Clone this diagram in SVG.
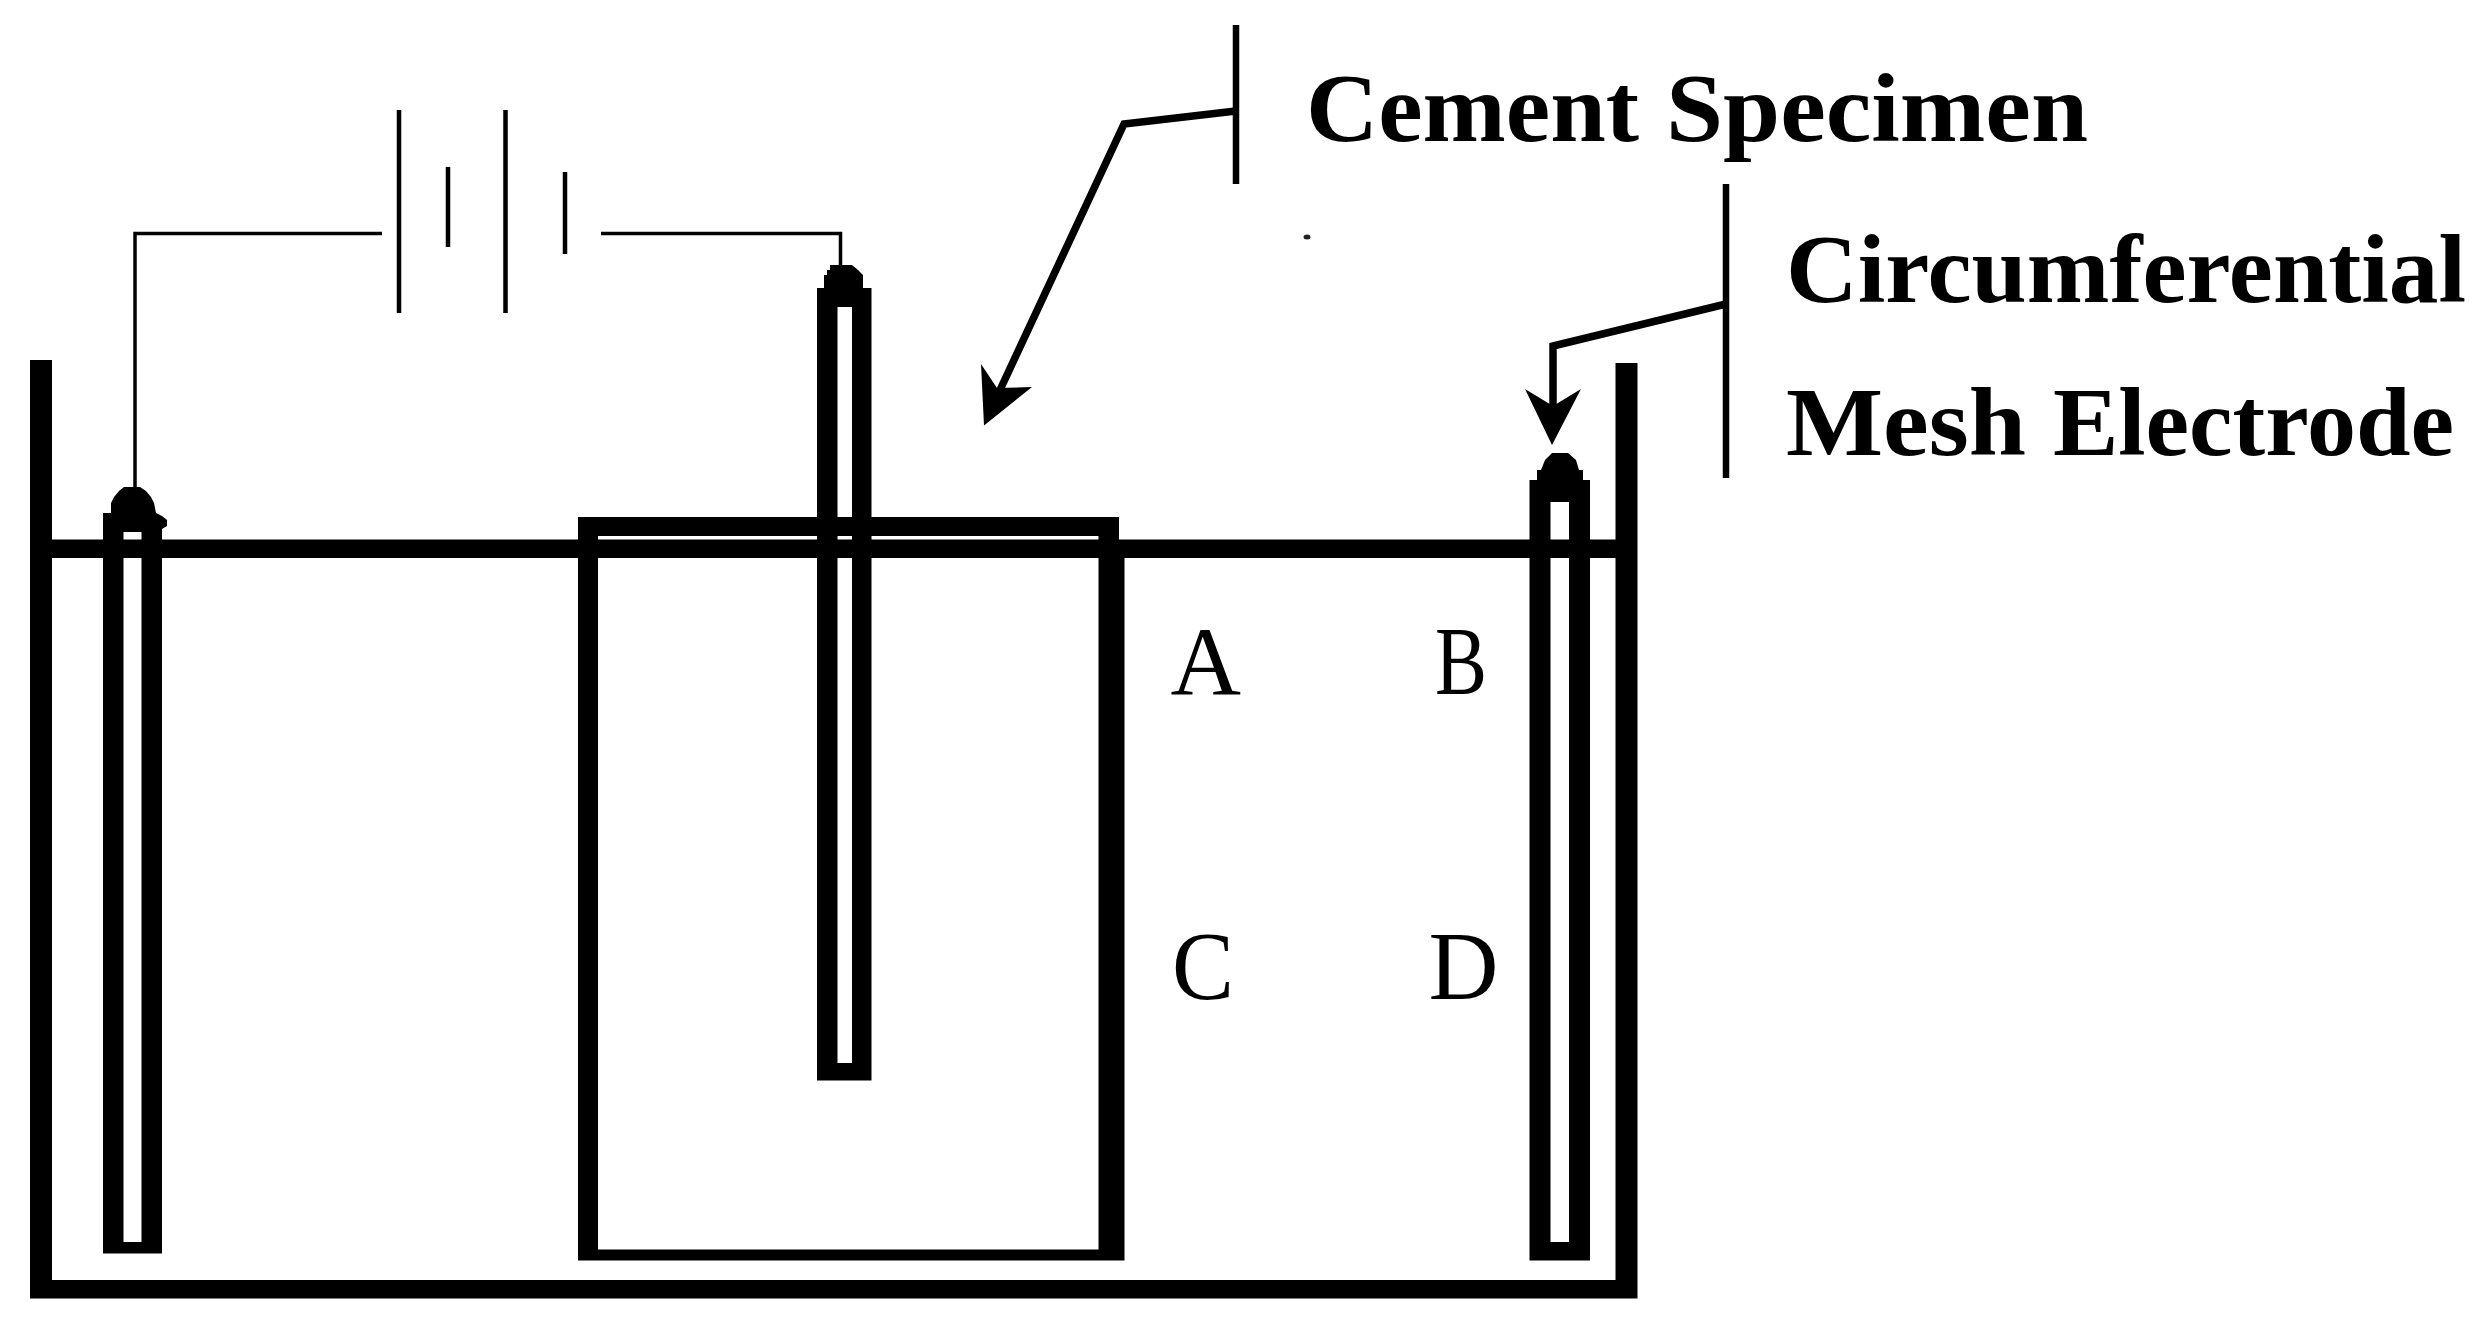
<svg xmlns="http://www.w3.org/2000/svg" width="2488" height="1335" viewBox="0 0 2488 1335">
<style>
.k{fill:#000;fill-rule:evenodd;stroke:none}
.w{fill:none;stroke:#000;stroke-width:3.5}
.b{fill:none;stroke:#000;stroke-width:4.5}
.br{fill:none;stroke:#000;stroke-width:6.5}
.a{fill:none;stroke:#000;stroke-width:7.5;stroke-linejoin:miter}
.lab{font-family:"Liberation Serif","DejaVu Serif",serif;font-weight:bold;font-size:97px;fill:#000}
.let{font-family:"Liberation Serif","DejaVu Serif",serif;font-size:98px;fill:#000}
</style>
<rect width="2488" height="1335" fill="#fff"/>
<g id="tank"><path class="k" d="M30 360H52V1280H1615.500V363H1637.500V1298.500H30Z"/><rect class="k" x="52" y="539.500" width="1564" height="18.500"/></g>
<g id="specimen"><path class="k" d="M578 517H1119V540H1124.500V1260.500H578ZM598 536V1249.500H1098.500V536Z"/></g>
<g id="electrode-left"><path class="k" d="M103 515V513H111V503L114 497L119 491L124 487H140L146 491L151 497L154 503L156 513L162 516L167 520V526L162 529V1253.500H103ZM123.500 532V1242H141.500V532Z"/></g>
<g id="electrode-center"><path class="k" d="M817 288H824V275H827V270H830V265H852L858 270L863 275V288H871.500V1080.500H817ZM837.500 307V1063H852V307Z"/></g>
<g id="electrode-right"><path class="k" d="M1529.500 480H1537V470H1541L1545 460L1552 453H1568L1576 460L1579 470H1583V480H1590V1260.500H1529.500ZM1550.500 502V1242H1569V502Z"/></g>
<g id="battery">
<line class="b" x1="399" y1="110" x2="399" y2="313"/>
<line class="b" x1="505.500" y1="110" x2="505.500" y2="313"/>
<line class="b" x1="448" y1="167" x2="448" y2="247"/>
<line class="b" x1="565" y1="172" x2="565" y2="254"/>
</g>
<g id="connectors">
<path class="w" d="M382 233.500H135V488"/>
<path class="w" d="M601 233.500H840.500V267"/>
<line class="br" x1="1236" y1="25" x2="1236" y2="184"/>
<path class="a" d="M1236 111L1124 124L1000 390"/>
<path class="k" d="M984 425.500L981 364L997 388L1032 387Z"/>
<line class="br" x1="1726" y1="184" x2="1726" y2="478"/>
<path class="a" d="M1726 304L1553 346V410"/>
<path class="k" d="M1552 445L1525 389L1553 406L1581 389Z"/>
<ellipse cx="1307" cy="237" rx="3.500" ry="2.500" fill="#222"/>
</g>
<g id="label-cement"><text class="lab" y="141"><tspan x="1306" textLength="333" lengthAdjust="spacingAndGlyphs">Cement</tspan> <tspan x="1666" textLength="422" lengthAdjust="spacingAndGlyphs">Specimen</tspan></text></g>
<g id="label-mesh">
<text class="lab" x="1786" y="302" textLength="680" lengthAdjust="spacingAndGlyphs">Circumferential</text>
<text class="lab" y="455"><tspan x="1786" textLength="240" lengthAdjust="spacingAndGlyphs">Mesh</tspan> <tspan x="2053" textLength="401" lengthAdjust="spacingAndGlyphs">Electrode</tspan></text>
</g>
<g id="point-a"><text class="let" x="1170.500" y="693.500" textLength="70.500" lengthAdjust="spacingAndGlyphs">A</text></g>
<g id="point-b"><text class="let" x="1435" y="693.500" textLength="52" lengthAdjust="spacingAndGlyphs">B</text></g>
<g id="point-c"><text class="let" x="1172" y="999" textLength="62" lengthAdjust="spacingAndGlyphs">C</text></g>
<g id="point-d"><text class="let" x="1428.500" y="999" textLength="70" lengthAdjust="spacingAndGlyphs">D</text></g>
</svg>
